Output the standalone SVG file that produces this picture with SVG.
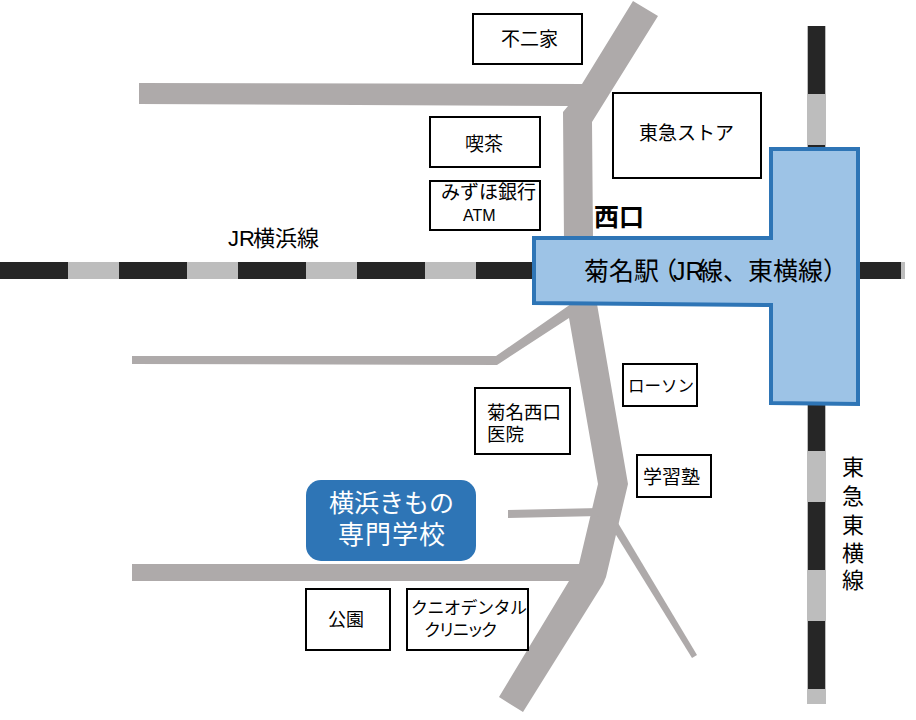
<svg xmlns="http://www.w3.org/2000/svg" width="916" height="720" viewBox="0 0 916 720">
<style>
text{font-family:"Noto Sans CJK JP","Liberation Sans",sans-serif;fill:#000}
.road{fill:#aeaaaa}
.light{fill:#bdbdbd}
.dark{fill:#262626}
.box{fill:#fff;stroke:#000;stroke-width:2}
.t{font-size:19px}
.w{fill:#fff}
</style>
<rect width="916" height="720" fill="#fff"/>
<g id="roads">
<polygon class="road" points="139,83 582,84 633,1 658,16 592,122 593,240 564,240 563,112 568,106 139,104"/>
<polygon class="road" points="132,356 496,356 571,304 597,304 628,484 606,577 603,584 523,712 499,697 569,581 132,581 132,564 579,564 598,484 569,318 497,365 132,364"/>
<polygon class="road" points="508,510 600,508 600,516 508,518"/>
<polygon class="road" points="618,523 697,655 692,658 613,530"/>
</g>
<g id="rail-jr">
<rect class="light" x="0" y="262" width="535" height="17"/>
<rect class="dark" x="0" y="262" width="68" height="17"/>
<rect class="dark" x="119" y="262" width="68" height="17"/>
<rect class="dark" x="238" y="262" width="68" height="17"/>
<rect class="dark" x="357" y="262" width="68" height="17"/>
<rect class="dark" x="476" y="262" width="60" height="17"/>
<rect class="light" x="858" y="262" width="47" height="17"/>
<rect class="dark" x="858" y="262" width="43" height="17"/>
</g>
<g id="rail-toyoko">
<rect class="light" x="807" y="26" width="19" height="124"/>
<rect class="dark" x="808" y="26" width="17" height="68"/>
<rect class="dark" x="808" y="145" width="17" height="5"/>
<rect class="light" x="807" y="403" width="19" height="301"/>
<rect class="dark" x="808" y="403" width="17" height="48"/>
<rect class="dark" x="808" y="502" width="17" height="68"/>
<rect class="dark" x="808" y="621" width="17" height="68"/>
</g>
<g id="station">
<polygon points="771,149 858,149 858,404 771,403 771,305 534,303 534,238 771,238" fill="#9dc3e6" stroke="#2e75b6" stroke-width="4"/>
<text y="280" font-size="25"><tspan x="584">菊名駅</tspan><tspan x="652">（</tspan><tspan x="673" style="font-family:'Liberation Sans',sans-serif">JR</tspan><tspan x="698">線、東横線</tspan><tspan x="823">）</tspan></text>
</g>
<g id="label-nishiguchi"><text x="594" y="226" font-size="25" font-weight="700">西口</text></g>
<g id="label-jr"><text y="246" font-size="22"><tspan x="228" style="font-family:'Liberation Sans',sans-serif">JR</tspan><tspan x="253">横浜線</tspan></text></g>
<g id="label-toyoko" font-size="22">
<text x="842" y="475">東</text>
<text x="842" y="504">急</text>
<text x="842" y="533">東</text>
<text x="842" y="561">横</text>
<text x="842" y="588">線</text>
</g>
<g id="school">
<rect x="306" y="480" width="170" height="81" rx="15" fill="#2e75b6"/>
<text x="329" y="512" font-size="25" class="w">横浜きもの</text>
<text x="338" y="544" font-size="26" class="w" textLength="107">専門学校</text>
</g>
<g id="fujiya"><rect class="box" x="473" y="14" width="109" height="50"/><text x="501" y="46" class="t">不二家</text></g>
<g id="kissa"><rect class="box" x="430" y="117" width="110" height="50"/><text x="465" y="151" class="t">喫茶</text></g>
<g id="mizuho"><rect class="box" x="430" y="181" width="110" height="49"/><text x="441" y="199" class="t">みずほ銀行</text><text x="463" y="221" font-size="16" style="font-family:'Liberation Sans',sans-serif">ATM</text></g>
<g id="tokyu-store"><rect class="box" x="613" y="93" width="148" height="85"/><text x="639" y="140" class="t">東急ストア</text></g>
<g id="lawson"><rect class="box" x="623" y="364" width="74" height="42"/><text x="628" y="392" font-size="16.5">ローソン</text></g>
<g id="clinic"><rect class="box" x="475" y="388" width="95" height="66"/><text x="487" y="419" font-size="18.5">菊名西口</text><text x="487" y="441" font-size="18.5">医院</text></g>
<g id="juku"><rect class="box" x="637" y="455" width="74" height="42"/><text x="643" y="484" class="t">学習塾</text></g>
<g id="park"><rect class="box" x="306" y="589" width="84" height="61"/><text x="328" y="626" font-size="18">公園</text></g>
<g id="dental"><rect class="box" x="407" y="589" width="121" height="61"/><text x="411" y="614" font-size="17" textLength="116">クニオデンタル</text><text x="424" y="636" font-size="17" textLength="74">クリニック</text></g>
</svg>
